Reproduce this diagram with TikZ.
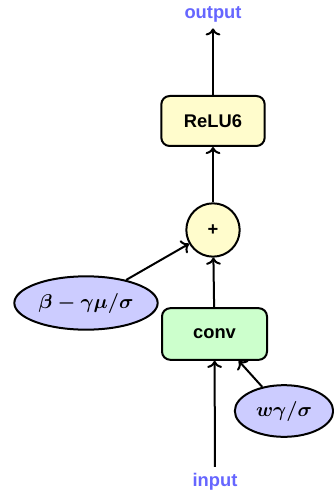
\documentclass[tikz,border=0pt]{standalone}
\usepackage{amsmath, amssymb}
\usepackage{fontspec}
\setsansfont{Liberation Sans}
\usepackage{tikz}
\usetikzlibrary{arrows.meta, shapes.geometric}

\tikzset{
  layer/.style={draw, line width=1.2pt, rounded corners=5pt, minimum width=62pt, minimum height=30pt, font=\fontsize{11}{13}\sffamily\bfseries},
  param/.style={draw, ellipse, line width=1.2pt, fill=blue!20, inner sep=0pt, font=\fontsize{11.5}{13}\boldmath},
  io/.style={text=blue!60, font=\fontsize{11}{13}\sffamily\bfseries}
}

\begin{document}
\begin{tikzpicture}[x=0.6pt, y=-0.6pt, line width=1.2pt]
  \useasboundingbox (0,0) rectangle (334,495);

  % Input / output
  \node[io] (input) at (215,482) {input};
  \node[io] (output) at (213,14) {output};

  % Main path
  \node[layer, fill=green!20, minimum width=63pt, minimum height=31pt] (conv) at (214.5,334) {conv};
  \node[draw, circle, fill=yellow!20, minimum size=32pt, inner sep=0pt, font=\fontsize{11}{13}\sffamily\bfseries] (add) at (213,230) {+};
  \node[layer, fill=yellow!20] (relu) at (213,121) {ReLU6};

  % Folded batch norm parameters
  \node[param, minimum width=86pt, minimum height=32pt] (bias) at (86,303) {$\beta-\gamma\mu/\sigma$};
  \node[param, minimum width=59pt, minimum height=31pt] (weight) at (284,411) {$w\gamma/\sigma$};

  % Connections
  \draw[->] (input) -- (conv);
  \draw[->] (conv) -- (add);
  \draw[->] (add) -- (relu);
  \draw[->] (relu) -- (output);
  \draw[->] (bias) -- (add);
  \draw[->] (weight) -- (conv);

\end{tikzpicture}
\end{document}
